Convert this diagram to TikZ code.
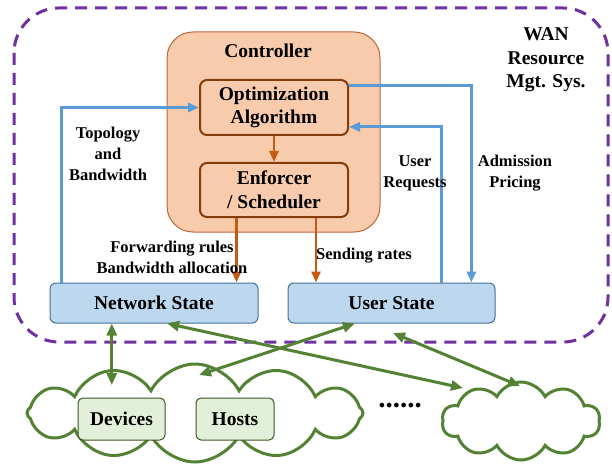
\documentclass[tikz,border=0pt]{standalone}
\usepackage{fontspec}
\setmainfont{Liberation Serif}
\usetikzlibrary{arrows.meta,calc,shapes.symbols}

\definecolor{sysPurple}{HTML}{7030A0}
\definecolor{peach}{HTML}{F8CBAD}
\definecolor{ctrlEdge}{HTML}{B9673A}
\definecolor{boxEdge}{HTML}{843C0C}
\definecolor{rust}{HTML}{C55A11}
\definecolor{skyLine}{HTML}{5B9BD5}
\definecolor{paleBlue}{HTML}{BDD7EE}
\definecolor{blueEdge}{HTML}{41719C}
\definecolor{leaf}{HTML}{548235}
\definecolor{paleGreen}{HTML}{E2F0D9}
\definecolor{greenEdge}{HTML}{385723}

\tikzset{
  big/.style={font=\bfseries\fontsize{19.5}{23.5}\selectfont, align=center, inner sep=0pt},
  small/.style={font=\bfseries\fontsize{16.5}{21}\selectfont, align=center, inner sep=0pt},
  algbox/.style={big, draw=boxEdge, line width=2pt, fill=peach, rounded corners=7pt,
                 minimum width=148pt, minimum height=55pt},
  statebox/.style={big, draw=blueEdge, line width=1pt, fill=paleBlue, rounded corners=6pt,
                   minimum width=207pt, minimum height=40pt},
  hostbox/.style={big, draw=greenEdge, line width=1pt, fill=paleGreen, rounded corners=5pt,
                  minimum height=42pt},
  puff/.style={cloud, cloud puffs=12, cloud puff arc=125, cloud ignores aspect,
               draw=leaf, line width=3pt, fill=white},
  otip/.style={draw=rust, line width=2.8pt, -{Triangle[length=11pt,width=9pt]}},
  btip/.style={draw=skyLine, line width=2.8pt, -{Triangle[length=11pt,width=9pt]}},
  gtip/.style={draw=leaf, line width=3pt, {Triangle[length=12pt,width=10pt]}-{Triangle[length=12pt,width=10pt]}},
}

\begin{document}
\begin{tikzpicture}[x=1pt, y=-1pt]
\useasboundingbox (0,0) rectangle (612,470);

% system boundary
\draw[sysPurple, line width=3pt, dash pattern=on 12pt off 8pt, rounded corners=45pt]
  (14,8) rectangle (608,342);
\node[big] (wan) at (546,60) {WAN\\Resource\\Mgt. Sys.};

% controller
\node[draw=ctrlEdge, line width=1pt, fill=peach, rounded corners=26pt,
      minimum width=213pt, minimum height=200pt, inner sep=0pt] (ctrl) at (273.5,132) {};
\node[big] (ctrltitle) at (268,51) {Controller};
\node[algbox] (opt) at (274,107.5) {Optimization\\Algorithm};
\node[algbox, minimum height=54pt] (enf) at (274,190) {Enforcer\\/ Scheduler};
\draw[otip] (opt.south) -- (enf.north);

% state boxes
\node[statebox, minimum width=208pt] (net) at (154,303) {Network State};
\node[statebox] (usr) at (391.5,303) {User State};

% enforcer outputs
\coordinate (e1) at ($(enf.south west)!0.25!(enf.south east)$);
\coordinate (e2) at ($(enf.south west)!0.78!(enf.south east)$);
\draw[otip] (e1) -- (e1 |- net.north);
\draw[otip] (e2) -- (e2 |- usr.north);
\node[small] (fwd) at (172,257) {Forwarding rules\\Bandwidth allocation};
\node[small] (send) at (364,256) {Sending rates};

% feedback loops
\coordinate (n1) at ($(net.north west)!0.058!(net.north east)$);
\draw[btip] (n1) |- (opt.west);
\node[small] (topo) at (108,154) {Topology\\and\\Bandwidth};

\coordinate (o1) at ($(opt.north east)!0.11!(opt.south east)$);
\coordinate (u1) at ($(usr.north west)!0.884!(usr.north east)$);
\draw[btip] (o1) -| (u1);
\node[small] (adm) at (515,173) {Admission\\Pricing};

\coordinate (u2) at ($(usr.north west)!0.739!(usr.north east)$);
\coordinate (o2) at ($(opt.north east)!0.84!(opt.south east)$);
\draw[btip] (u2) |- (o2);
\node[small] (req) at (415,173) {User\\Requests};

% clouds of endpoints
\node[puff, minimum width=336pt, minimum height=98pt] (cloudA) at (195,413) {};
\node[puff, cloud puffs=10, minimum width=158pt, minimum height=78pt] (cloudB) at (521,421) {};
\node[hostbox, minimum width=87pt] (dev) at (121.5,419) {Devices};
\node[hostbox, minimum width=78pt] (hst) at (235,419) {Hosts};
\node[font=\bfseries\fontsize{29}{29}\selectfont, inner sep=0pt] (dots) at (400,406) {......};

% links between state and endpoints
\coordinate (n2) at ($(net.south west)!0.298!(net.south east)$);
\coordinate (n3) at ($(net.south west)!0.5625!(net.south east)$);
\coordinate (u3) at ($(usr.south west)!0.324!(usr.south east)$);
\coordinate (ca0) at (112,385);
\coordinate (ca1) at (199,375);
\coordinate (cb1) at (463,388);
\coordinate (ub) at (393,333);
\coordinate (cb2) at (520,386);
\draw[gtip] (n2) -- (n2 |- ca0);
\draw[gtip] (u3) -- (ca1);
\draw[gtip] (n3) -- (cb1);
\draw[gtip] (ub) -- (cb2);
\end{tikzpicture}
\end{document}
